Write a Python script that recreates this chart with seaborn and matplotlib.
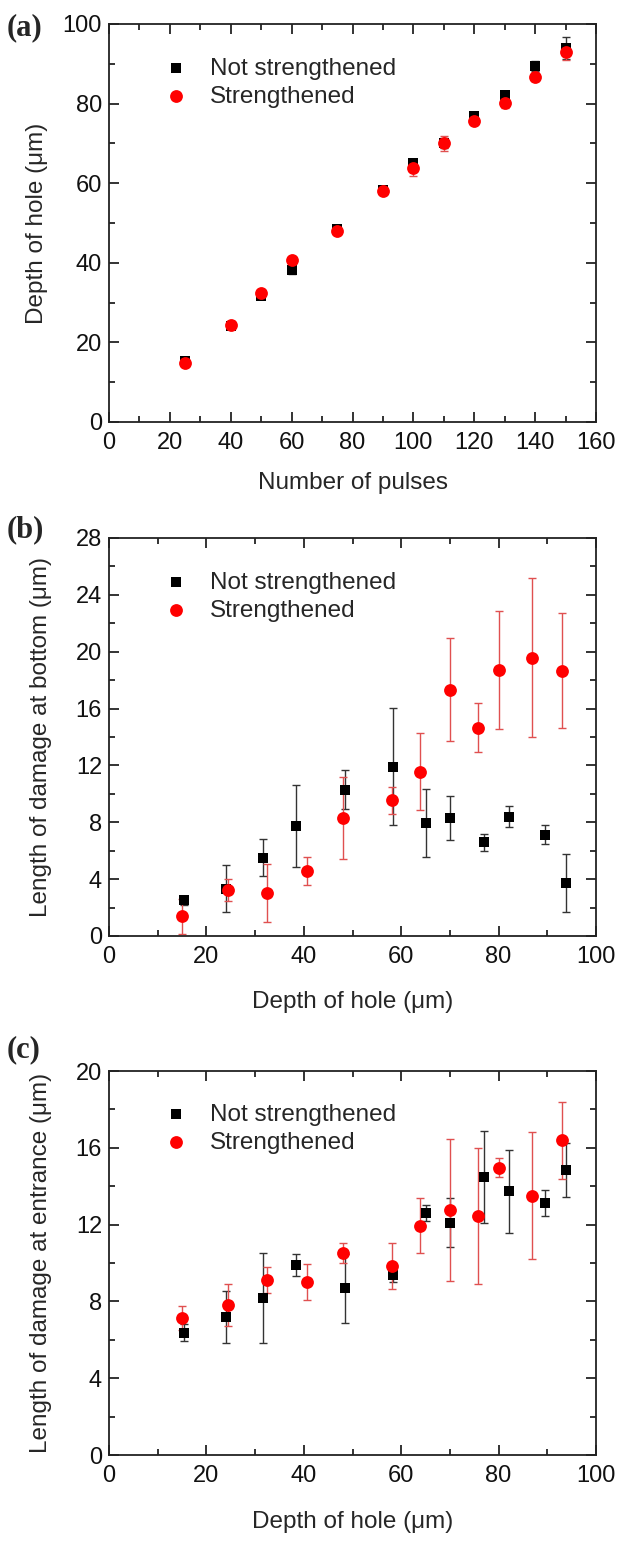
import numpy as np
import pandas as pd
import matplotlib
matplotlib.use("Agg")
import matplotlib.pyplot as plt
import seaborn as sns
from matplotlib.ticker import MultipleLocator

# ---------------- data ----------------
pulses = [25, 40, 50, 60, 75, 90, 100, 110, 120, 130, 140, 150]
depth_ns = [15.3, 24.0, 31.7, 38.3, 48.5, 58.4, 65.0, 70.1, 76.9, 82.2, 89.5, 93.9]
depth_ns_err = [0.8, 0.7, 0.6, 1.2, 0.9, 0.7, 1.0, 1.2, 0.8, 0.7, 1.3, 2.8]
depth_s = [14.9, 24.4, 32.4, 40.6, 48.1, 58.1, 63.9, 70.0, 75.7, 80.1, 86.8, 93.0]
depth_s_err = [0.8, 0.9, 0.8, 0.6, 0.9, 0.6, 2.0, 1.8, 0.7, 1.2, 1.2, 2.0]

bottom_ns = [2.5, 3.34, 5.52, 7.73, 10.29, 11.91, 7.96, 8.29, 6.58, 8.39, 7.14, 3.73]
bottom_ns_err = [0.3, 1.65, 1.28, 2.9, 1.37, 4.1, 2.4, 1.54, 0.63, 0.73, 0.7, 2.07]
bottom_s = [1.39, 3.24, 3.03, 4.56, 8.32, 9.54, 11.56, 17.34, 14.66, 18.70, 19.57, 18.65]
bottom_s_err = [1.22, 0.79, 2.04, 1.0, 2.88, 0.94, 2.7, 3.65, 1.75, 4.17, 5.6, 4.04]

entr_ns = [6.37, 7.17, 8.16, 9.88, 8.68, 9.36, 12.62, 12.10, 14.48, 13.73, 13.13, 14.84]
entr_ns_err = [0.43, 1.35, 2.35, 0.57, 1.8, 0.35, 0.42, 1.29, 2.4, 2.18, 0.69, 1.4]
entr_s = [7.12, 7.80, 9.13, 9.01, 10.52, 9.84, 11.94, 12.76, 12.45, 14.97, 13.51, 16.39]
entr_s_err = [0.63, 1.1, 0.68, 0.95, 0.53, 1.22, 1.42, 3.7, 3.56, 0.5, 3.3, 2.0]

labels = ["Not strengthened", "Strengthened"]
panel_letters = ["(a)", "(b)", "(c)"]

# ---------------- style ----------------
sns.set_style("ticks")
plt.rcParams['font.family'] = ['Liberation Sans', 'DejaVu Sans']

fig = plt.figure(figsize=(6.19, 15.48), dpi=100)
W, H = 619, 1548

def make_ax(left, top, right, bottom):
    return fig.add_axes([left / W, 1 - bottom / H, (right - left) / W, (bottom - top) / H])

axA = make_ax(109, 24, 596, 422)
axB = make_ax(109, 538, 596, 936)
axC = make_ax(109, 1071, 596, 1455)

BLACK = "#000000"
RED = "#ff0000"
RED_ERR = "#e05050"

def plot_panel(ax, x_ns, y_ns, e_ns, x_s, y_s, e_s):
    ax.errorbar(x_ns, y_ns, yerr=e_ns, fmt='none', ecolor="#333333", elinewidth=1.0,
                capsize=3.0, capthick=1.0, zorder=2)
    ax.errorbar(x_s, y_s, yerr=e_s, fmt='none', ecolor=RED_ERR, elinewidth=1.0,
                capsize=3.0, capthick=1.0, zorder=2)
    df_ns = pd.DataFrame({"x": x_ns, "y": y_ns})
    df_s = pd.DataFrame({"x": x_s, "y": y_s})
    sns.scatterplot(data=df_ns, x="x", y="y", ax=ax, marker="s", color=BLACK, s=60,
                    linewidth=0, label=labels[0], zorder=3)
    sns.scatterplot(data=df_s, x="x", y="y", ax=ax, marker="o", color=RED, s=85,
                    linewidth=0, label=labels[1], zorder=4)

plot_panel(axA, pulses, depth_ns, depth_ns_err, pulses, depth_s, depth_s_err)
plot_panel(axB, depth_ns, bottom_ns, bottom_ns_err, depth_s, bottom_s, bottom_s_err)
plot_panel(axC, depth_ns, entr_ns, entr_ns_err, depth_s, entr_s, entr_s_err)

tfs = 17
lfs = 17.5
for ax in (axA, axB, axC):
    ax.tick_params(which='both', direction='in', top=True, right=True,
                   labelsize=tfs, width=1.2, colors="#111111")
    ax.tick_params(axis='x', which='both', pad=7)
    ax.tick_params(axis='y', which='both', pad=5)
    ax.tick_params(which='major', length=7)
    ax.tick_params(which='minor', length=4)
    for sp in ax.spines.values():
        sp.set_linewidth(1.3)
        sp.set_color("#222222")

axA.set_xlim(0, 160)
axA.set_ylim(0, 100)
axA.xaxis.set_major_locator(MultipleLocator(20))
axA.xaxis.set_minor_locator(MultipleLocator(10))
axA.yaxis.set_major_locator(MultipleLocator(20))
axA.yaxis.set_minor_locator(MultipleLocator(10))
axA.set_xlabel("Number of pulses", fontsize=lfs)
axA.set_ylabel("Depth of hole (\u03bcm)", fontsize=lfs)

axB.set_xlim(0, 100)
axB.set_ylim(0, 28)
axB.xaxis.set_major_locator(MultipleLocator(20))
axB.xaxis.set_minor_locator(MultipleLocator(10))
axB.yaxis.set_major_locator(MultipleLocator(4))
axB.yaxis.set_minor_locator(MultipleLocator(2))
axB.set_xlabel("Depth of hole (\u03bcm)", fontsize=lfs)
axB.set_ylabel("Length of damage at bottom (\u03bcm)", fontsize=lfs)

axC.set_xlim(0, 100)
axC.set_ylim(0, 20)
axC.xaxis.set_major_locator(MultipleLocator(20))
axC.xaxis.set_minor_locator(MultipleLocator(10))
axC.yaxis.set_major_locator(MultipleLocator(4))
axC.yaxis.set_minor_locator(MultipleLocator(2))
axC.set_xlabel("Depth of hole (\u03bcm)", fontsize=lfs)
axC.set_ylabel("Length of damage at entrance (\u03bcm)", fontsize=lfs)

axA.xaxis.set_label_coords(0.5, -50 / 398)
axB.xaxis.set_label_coords(0.5, -55 / 398)
axC.xaxis.set_label_coords(0.5, -56 / 384)
axA.yaxis.set_label_coords(-0.125, 0.5)
axB.yaxis.set_label_coords(-0.118, 0.5)
axC.yaxis.set_label_coords(-0.118, 0.5)

for ax in (axA, axB, axC):
    ax.legend(loc='upper left', bbox_to_anchor=(0.08, 0.94), frameon=False,
              fontsize=lfs, handletextpad=0.65, labelspacing=0.25, handlelength=1.5,
              borderaxespad=0)

for letter, ypx in zip(panel_letters, (28, 530, 1050)):
    fig.text(7 / W, 1 - ypx / H, letter, fontsize=22, fontweight='bold',
             family=['Liberation Serif', 'DejaVu Serif'], ha='left', va='center')

fig.savefig("out.png", dpi=100)
